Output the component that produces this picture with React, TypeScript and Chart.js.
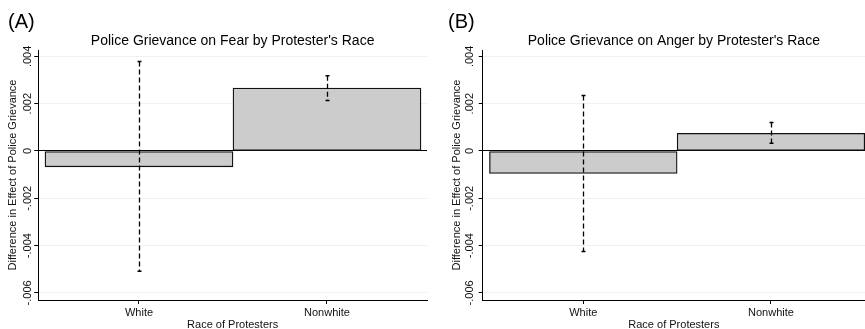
import React, { useEffect, useRef } from "react";
import { Chart, registerables } from "chart.js";

Chart.register(...registerables);

const FONT = "'Liberation Sans', Arial, Helvetica, sans-serif";

const categories = ["White", "Nonwhite"];
const positions = [1, 2];
const yTicks = [0.004, 0.002, 0, -0.002, -0.004, -0.006];
const yTickLabels = [".004", ".002", "0", "-.002", "-.004", "-.006"];
const yMin = -0.0063;
const yMax = 0.00427;

// Panel A: Fear
const fearEffect = [-0.00067, 0.00266];
const fearLower = [-0.00508, 0.00214];
const fearUpper = [0.00378, 0.00318];

// Panel B: Anger
const angerEffect = [-0.00095, 0.00075];
const angerLower = [-0.00425, 0.00033];
const angerUpper = [0.00235, 0.0012];

type PanelProps = {
  label: string;
  title: string;
  values: number[];
  lower: number[];
  upper: number[];
  left: number;
  width: number;
  padLeft: number;
  padRight: number;
  yAxisWidth: number;
  tickPad: number;
  yTitlePad: number;
  xMin: number;
  xMax: number;
};

function Panel(p: PanelProps) {
  const ref = useRef<HTMLCanvasElement>(null);
  useEffect(() => {
    if (!ref.current) return;
    const errorBars = {
      id: "errorBars",
      afterDatasetsDraw(chart: any) {
        const { ctx } = chart;
        const x = chart.scales.x;
        const y = chart.scales.y;
        ctx.save();
        ctx.strokeStyle = "#000";
        positions.forEach((pos, i) => {
          const px = Math.round(x.getPixelForValue(pos)) + 0.5;
          const yl = y.getPixelForValue(p.lower[i]);
          const yu = y.getPixelForValue(p.upper[i]);
          ctx.lineWidth = 1.3;
          ctx.setLineDash([5, 3]);
          ctx.beginPath();
          ctx.moveTo(px, yu);
          ctx.lineTo(px, yl);
          ctx.stroke();
          ctx.setLineDash([]);
          ctx.lineWidth = 1.5;
          ctx.beginPath();
          ctx.moveTo(px - 2, yu);
          ctx.lineTo(px + 2, yu);
          ctx.moveTo(px - 2, yl);
          ctx.lineTo(px + 2, yl);
          ctx.stroke();
        });
        ctx.restore();
      },
    };
    const chart = new Chart(ref.current, {
      type: "bar",
      data: {
        datasets: [
          {
            data: positions.map((pos, i) => ({ x: pos, y: p.values[i] })) as any,
            backgroundColor: "#cccccc",
            borderColor: "#111",
            borderWidth: 1.3,
            borderSkipped: false,
            barPercentage: 1,
            categoryPercentage: 1,
          },
        ],
      },
      options: {
        responsive: false,
        animation: false,
        layout: { padding: { left: p.padLeft, right: p.padRight, top: 0, bottom: 0 } },
        plugins: {
          legend: { display: false },
          tooltip: { enabled: false },
          title: {
            display: true,
            text: p.label,
            align: "start",
            color: "#000",
            font: { family: FONT, size: 20, weight: "normal", lineHeight: 1 },
            padding: { top: 12.4, bottom: 0 },
          },
          subtitle: {
            display: true,
            text: p.title,
            fullSize: false,
            color: "#000",
            font: { family: FONT, size: 14, weight: "normal", lineHeight: 1 },
            padding: { top: 1.45, bottom: 2.15 },
          },
        },
        scales: {
          x: {
            type: "linear",
            offset: false,
            min: p.xMin,
            max: p.xMax,
            afterBuildTicks: (s: any) => {
              s.ticks = positions.map((v) => ({ value: v }));
            },
            afterFit: (s: any) => {
              s.height = 29;
            },
            ticks: {
              callback: (v: any) => categories[positions.indexOf(Number(v))] ?? "",
              font: { family: FONT, size: 11 },
              color: "#111",
              padding: 2,
              maxRotation: 0,
              autoSkip: false,
            },
            grid: { offset: false, drawOnChartArea: false, tickLength: 4, color: "#000", tickColor: "#000" },
            border: { color: "#000", width: 1 },
            title: {
              display: true,
              text: "Race of Protesters",
              color: "#111",
              font: { family: FONT, size: 11, lineHeight: 0.82 },
              padding: { top: 0, bottom: 0 },
            },
          },
          y: {
            min: yMin,
            max: yMax,
            afterBuildTicks: (s: any) => {
              s.ticks = yTicks.map((v) => ({ value: v }));
            },
            afterFit: (s: any) => {
              s.width = p.yAxisWidth;
            },
            ticks: {
              callback: (v: any) => yTickLabels[yTicks.indexOf(Number(v))] ?? "",
              font: { family: FONT, size: 11 },
              color: "#111",
              minRotation: 90,
              maxRotation: 90,
              crossAlign: "center",
              padding: p.tickPad,
              autoSkip: false,
            },
            grid: {
              color: (ctx: any) => (ctx.tick && ctx.tick.value === 0 ? "#000" : "#eaf2f3"),
              lineWidth: 1,
              tickColor: "#000",
              tickLength: 4,
            },
            border: { color: "#000", width: 1 },
            title: {
              display: true,
              text: "Difference in Effect of Police Grievance",
              color: "#111",
              font: { family: FONT, size: 11, lineHeight: 1 },
              padding: { top: p.yTitlePad, bottom: 0 },
            },
          },
        },
      } as any,
      plugins: [errorBars],
    });
    return () => chart.destroy();
  }, []);
  return (
    <canvas
      ref={ref}
      width={p.width}
      height={329}
      style={{ position: "absolute", left: p.left, top: 0, width: p.width, height: 329, display: "block" }}
    />
  );
}

export default function App() {
  return (
    <div style={{ position: "fixed", left: 0, top: 0, width: 865, height: 329, background: "#fff", overflow: "hidden" }}>
      <Panel
        label="(A)"
        title="Police Grievance on Fear by Protester's Race"
        values={fearEffect}
        lower={fearLower}
        upper={fearUpper}
        left={0}
        width={432}
        padLeft={8}
        padRight={5}
        yAxisWidth={30.3}
        tickPad={-6.7}
        yTitlePad={-0.5}
        xMin={0.4644}
        xMax={2.532}
      />
      <Panel
        label="(B)"
        title="Police Grievance on Anger by Protester's Race"
        values={angerEffect}
        lower={angerLower}
        upper={angerUpper}
        left={435}
        width={430}
        padLeft={13}
        padRight={0}
        yAxisWidth={34.7}
        tickPad={-3.8}
        yTitlePad={3.5}
        xMin={0.464}
        xMax={2.501}
      />
    </div>
  );
}
